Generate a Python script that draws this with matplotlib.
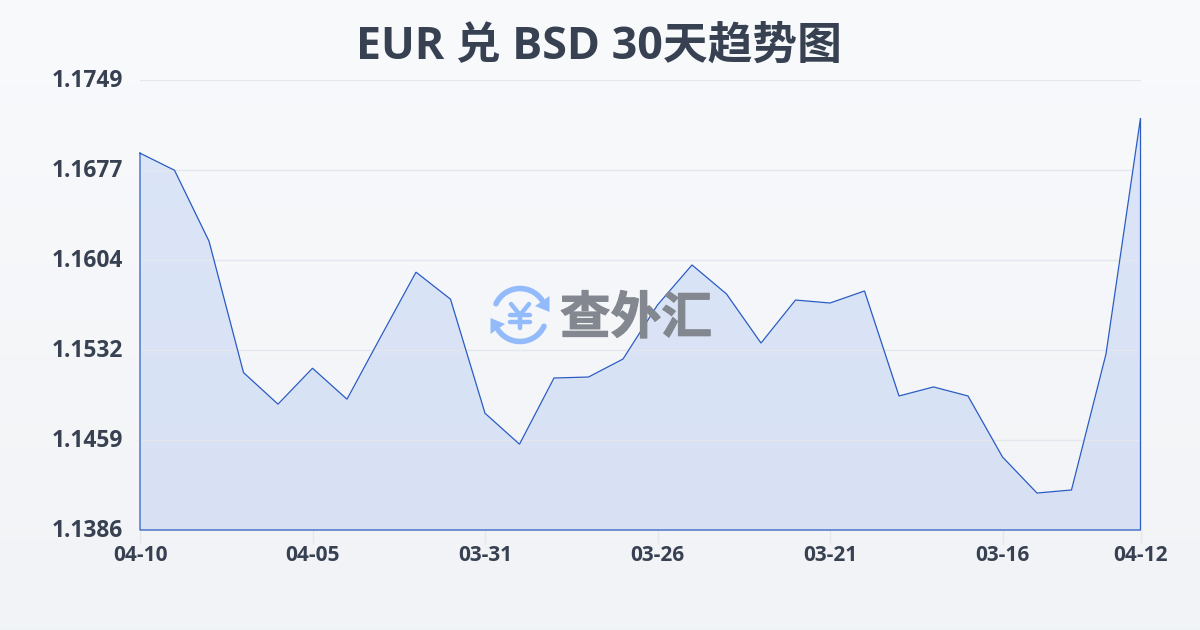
import numpy as np
import matplotlib
matplotlib.use("Agg")
import matplotlib.pyplot as plt
from matplotlib.patches import Arc, Polygon
from matplotlib.lines import Line2D
from matplotlib.transforms import ScaledTranslation
import matplotlib.patheffects as pe

plt.rcParams['font.family'] = ['Open Sans', 'Noto Sans CJK SC', 'DejaVu Sans']

TITLE = "EUR 兑 BSD 30天趋势图"
WATERMARK = "查外汇"
rates = [1.16900, 1.16762, 1.16190, 1.15130, 1.14875, 1.15165, 1.14915, 1.15430,
         1.15940, 1.15722, 1.14802, 1.14552, 1.15086, 1.15094, 1.15239, 1.15675,
         1.15998, 1.15764, 1.15368, 1.15715, 1.15691, 1.15788, 1.14941, 1.15014,
         1.14941, 1.14449, 1.14158, 1.14183, 1.15280, 1.17183]
x_positions = [0, 5, 10, 15, 20, 25, 29]
x_labels = ["04-10", "04-05", "03-31", "03-26", "03-21", "03-16", "04-12"]
y_ticks = [1.1386, 1.14586, 1.15312, 1.16038, 1.16764, 1.1749]
y_labels = ["1.1386", "1.1459", "1.1532", "1.1604", "1.1677", "1.1749"]

W, H = 1200, 630
fig = plt.figure(figsize=(W / 100, H / 100), dpi=100)

# background gradient
bg = fig.add_axes([0, 0, 1, 1], zorder=0)
bg.axis('off')
grad = np.linspace(0, 1, 256)[:, None, None]
top = np.array([0.973, 0.980, 0.988])
bot = np.array([0.945, 0.953, 0.965])
bg.imshow(top + (bot - top) * grad, aspect='auto', extent=[0, W, H, 0], interpolation='bilinear')
bg.set_xlim(0, W)
bg.set_ylim(H, 0)

ax = fig.add_axes([140 / W, 1 - 530 / H, 1000.5 / W, 450 / H], zorder=1)
ax.patch.set_alpha(0)
x = np.arange(len(rates))
ax.set_xlim(0, 29)
ax.set_ylim(y_ticks[0], y_ticks[-1])
ax.fill_between(x, rates, y_ticks[0], color='#2f6be6', alpha=0.135, lw=0, zorder=2)
ax.plot(np.r_[x, x[-1], x[0], x[0]], np.r_[rates, y_ticks[0], y_ticks[0], rates[0]],
        color='#2a5cc4', lw=0.9, zorder=3, clip_on=False, solid_joinstyle='miter')
ax.grid(axis='y', color='#e4e7ee', lw=1, zorder=1)
ax.set_axisbelow(False)
for s in ax.spines.values():
    s.set_visible(False)
ax.set_xticks(x_positions, x_labels, fontsize=15, fontweight='bold', color='#374151')
ax.set_yticks(y_ticks, y_labels, fontsize=16.4, fontweight='bold', color='#374151')
ax.tick_params(axis='x', length=10, width=1, color='#e5e7eb', pad=1)
ax.tick_params(axis='y', length=0, pad=12.5)
shift = ScaledTranslation(0, 2 / 100, fig.dpi_scale_trans)
for lab in ax.get_yticklabels():
    lab.set_transform(lab.get_transform() + shift)

fig.text(599 / W, 1 - 47 / H, TITLE, fontsize=32.2, fontweight='bold', color='#374151',
         ha='center', va='center')

# watermark overlay in pixel coordinates
ov = fig.add_axes([0, 0, 1, 1], zorder=3)
ov.axis('off')
ov.patch.set_alpha(0)
ov.set_xlim(0, W)
ov.set_ylim(H, 0)
blue = '#93bbfb'
cx, cy, r = 520, 315, 26.5
ov.add_patch(Arc((cx, cy), 2 * r, 2 * r, theta1=205, theta2=325, color=blue, lw=4, capstyle='round'))
ov.add_patch(Arc((cx, cy), 2 * r, 2 * r, theta1=25, theta2=145, color=blue, lw=4, capstyle='round'))
ov.add_patch(Polygon([[549.5, 296], [549.5, 312], [535, 306]], closed=True, color=blue, lw=0))
ov.add_patch(Polygon([[490.5, 318], [490.5, 334], [505, 324]], closed=True, color=blue, lw=0))
for seg in ([(511, 304), (520, 315)], [(529, 304), (520, 315)], [(520, 315), (520, 328)],
            [(510, 315), (530, 315)], [(510, 322), (530, 322)]):
    ov.add_line(Line2D(*zip(*seg), color=blue, lw=3.2, solid_capstyle='round'))
ov.text(636, 319, WATERMARK, fontsize=36.5, fontweight='bold', color='#83878f',
        family=['Noto Sans CJK SC'], ha='center', va='center',
        path_effects=[pe.withStroke(linewidth=0.8, foreground='#83878f')])

fig.savefig('out.png', dpi=100)
